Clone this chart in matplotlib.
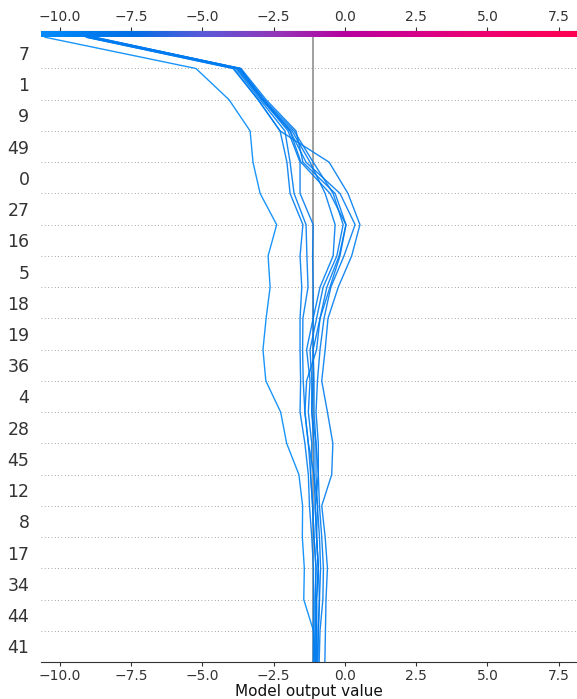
import numpy as np
import matplotlib
matplotlib.use("Agg")
import matplotlib.pyplot as plt
from matplotlib.colors import LinearSegmentedColormap, Normalize

# features from bottom to top of the decision plot
features = ['41', '44', '34', '17', '8', '12', '45', '28', '4', '36',
            '19', '18', '5', '16', '27', '0', '49', '9', '1', '7']

base_value = -1.12

# cumulative model output at each feature boundary (bottom -> top), one list per sample
obs_a = [-1.04, -1.10, -1.44, -1.42, -1.49, -1.48, -1.61, -2.04, -2.25, -2.77, -2.87,
         -2.76, -2.62, -2.69, -2.39, -2.97, -3.22, -3.32, -4.06, -5.22, -10.51]
obs_b = [-0.70, -0.68, -0.66, -0.61, -0.69, -0.81, -0.46, -0.42, -0.61, -0.81, -0.69,
         -0.59, -0.23, 0.24, 0.53, 0.11, -0.55, -2.27, -3.04, -3.92, -9.04]
obs_c = [-0.90, -0.87, -0.77, -0.75, -0.81, -0.89, -0.93, -0.93, -1.01, -0.96, -0.87,
         -0.73, -0.49, -0.03, 0.36, -0.17, -1.36, -1.92, -2.90, -3.78, -8.93]
obs_d = [-0.94, -0.93, -0.89, -0.85, -0.89, -0.96, -1.01, -1.01, -1.08, -1.08, -1.11,
         -0.87, -0.63, -0.20, 0.04, -0.34, -1.47, -1.71, -2.76, -3.64, -8.83]
obs_e = [-1.01, -0.99, -0.99, -0.93, -0.99, -1.04, -1.08, -1.08, -1.16, -1.16, -1.22,
         -0.99, -0.76, -0.28, -0.06, -0.41, -1.11, -1.78, -2.83, -3.71, -8.86]
obs_f = [-1.04, -1.04, -1.04, -1.01, -1.08, -1.13, -1.20, -1.16, -1.28, -1.22, -1.34,
         -1.11, -0.87, -0.41, -0.34, -0.69, -1.22, -1.85, -2.90, -3.74, -8.97]
obs_g = [-1.01, -0.99, -0.99, -0.93, -0.99, -0.96, -1.08, -1.28, -1.40, -1.34, -0.99,
         -0.87, -0.52, -0.17, 0.04, -0.52, -1.54, -1.92, -2.83, -3.67, -8.79]
obs_h = [-1.11, -1.10, -1.10, -1.10, -1.16, -1.24, -1.28, -1.40, -1.57, -1.55, -1.57,
         -1.57, -1.51, -1.57, -1.47, -1.92, -2.03, -2.27, -3.04, -3.89, -9.07]
obs_i = [-1.08, -1.04, -1.04, -1.01, -1.08, -1.13, -1.20, -1.28, -1.40, -1.46, -1.48,
         -1.47, -1.29, -1.33, -1.36, -1.78, -1.92, -2.10, -2.97, -3.82, -9.00]
obs_j = [-0.97, -0.93, -0.89, -0.93, -0.99, -1.04, -0.93, -1.01, -1.16, -1.11, -1.11,
         -1.11, -1.11, -1.13, -1.11, -1.57, -1.57, -1.99, -2.90, -3.67, -8.76]

paths = [obs_a, obs_b, obs_c, obs_d, obs_e, obs_f, obs_g, obs_h, obs_i, obs_j]

xlim = (-10.67, 8.14)
n_feat = len(features)

cmap = LinearSegmentedColormap.from_list('red_blue', [
    (0.00, '#008bfb'), (0.17, '#006fe6'), (0.30, '#5a5ad8'), (0.44, '#9435b8'),
    (0.57, '#b8009e'), (0.70, '#d6008a'), (0.83, '#ee006f'), (1.00, '#ff0052')])
norm = Normalize(vmin=xlim[0], vmax=xlim[1])

fig = plt.figure(figsize=(5.77, 6.99), dpi=100)
ax = fig.add_axes([40.5 / 577, 1 - 662 / 699, 1 - 40.5 / 577, 631 / 699])

# dotted feature dividers
for i in range(1, n_feat):
    ax.axhline(i, color='#888888', lw=0.6, dashes=(1, 3), zorder=0)

ax.axvline(base_value, ymin=0, ymax=n_feat / (n_feat + 0.2), color='#999999', lw=1.3, zorder=1)

y_pos = np.arange(n_feat + 1)
for p in paths:
    ax.plot(p, y_pos, color=cmap(norm(p[-1])), lw=1.0, alpha=0.9, zorder=2)

# colour bar along the top
grad = np.linspace(0, 1, 256).reshape(1, -1)
ax.imshow(grad, cmap=cmap, aspect='auto', extent=[xlim[0], xlim[1], n_feat, n_feat + 0.2], zorder=3)

ax.set_xlim(xlim)
ax.set_ylim(0, n_feat + 0.2)
ax.set_yticks(np.arange(n_feat) + 0.5)
ax.set_yticklabels(features, fontsize=12.5, color='#333333')
ax.tick_params(axis='y', length=0, pad=8)
ax.set_xticks([-10, -7.5, -5, -2.5, 0, 2.5, 5, 7.5])
ax.tick_params(axis='x', labelsize=10, colors='#333333', top=True, labeltop=True, length=3, pad=2)
ax.set_xlabel('Model output value', fontsize=11, color='#111111', labelpad=1)

for side in ['left', 'right']:
    ax.spines[side].set_visible(False)
ax.spines['bottom'].set_color('#333333')
ax.spines['top'].set_color('#333333')

fig.savefig('out.png', dpi=100)
